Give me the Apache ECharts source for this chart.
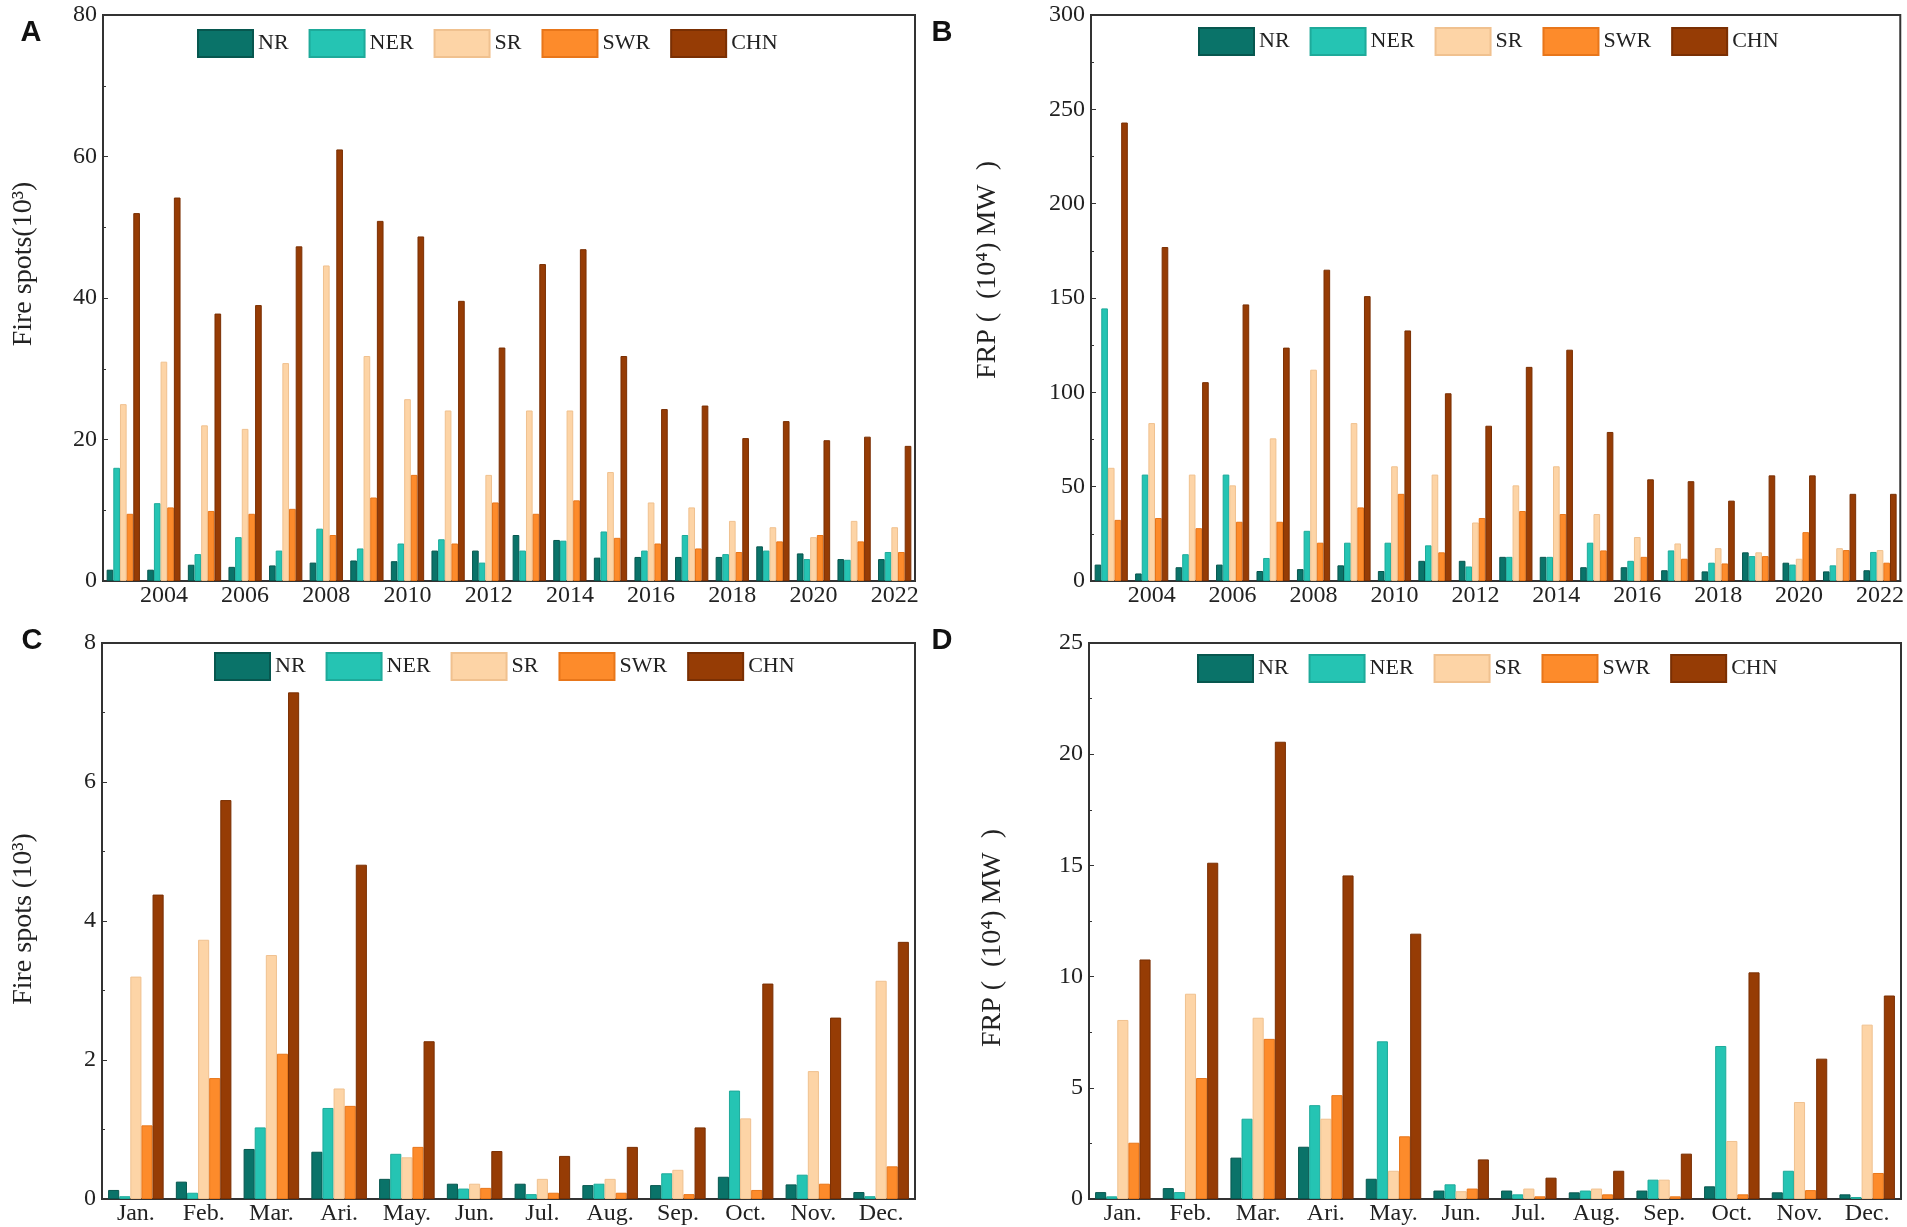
<!DOCTYPE html>
<html>
<head>
<meta charset="utf-8">
<title>Fire spots and FRP</title>
<script src="https://cdn.jsdelivr.net/npm/echarts@6/dist/echarts.min.js"></script>
<style>
    html, body { margin: 0; padding: 0; background: #fff; }
    #chart { width: 1907px; height: 1227px; }
</style>
</head>
<body>
<div id="chart"></div>
<script>
    //类别
    var years = ['2003', '2004', '2005', '2006', '2007', '2008', '2009', '2010', '2011', '2012',
        '2013', '2014', '2015', '2016', '2017', '2018', '2019', '2020', '2021', '2022'];
    var months = ['Jan.', 'Feb.', 'Mar.', 'Ari.', 'May.', 'Jun.', 'Jul.', 'Aug.', 'Sep.', 'Oct.', 'Nov.', 'Dec.'];
    var regions = ['NR', 'NER', 'SR', 'SWR', 'CHN'];

    //A 年火点数 (10^3)
    var spotsYearNR = [1.6, 1.6, 2.3, 2.0, 2.2, 2.6, 2.9, 2.8, 4.3, 4.3, 6.5, 5.8, 3.3, 3.4, 3.4, 3.4, 4.9, 3.9, 3.1, 3.1];
    var spotsYearNER = [16.0, 11.0, 3.8, 6.2, 4.3, 7.4, 4.6, 5.3, 5.9, 2.6, 4.3, 5.7, 7.0, 4.3, 6.5, 3.8, 4.3, 3.1, 3.0, 4.1];
    var spotsYearSR = [25.0, 31.0, 22.0, 21.5, 30.8, 44.6, 31.8, 25.7, 24.1, 15.0, 24.1, 24.1, 15.4, 11.1, 10.4, 8.5, 7.6, 6.2, 8.5, 7.6];
    var spotsYearSWR = [9.5, 10.4, 9.9, 9.5, 10.2, 6.5, 11.8, 15.0, 5.3, 11.1, 9.5, 11.4, 6.1, 5.3, 4.6, 4.1, 5.6, 6.5, 5.6, 4.1];
    var spotsYearCHN = [52.0, 54.2, 37.8, 39.0, 47.3, 61.0, 50.9, 48.7, 39.6, 33.0, 44.8, 46.9, 31.8, 24.3, 24.8, 20.2, 22.6, 19.9, 20.4, 19.1];

    //B 年FRP (10^4 MW)
    var frpYearNR = [8.7, 4.0, 7.3, 8.7, 5.3, 6.3, 8.3, 5.3, 10.7, 10.7, 12.8, 12.8, 7.3, 7.3, 5.7, 5.1, 15.2, 9.7, 5.1, 5.7];
    var frpYearNER = [144.5, 56.4, 14.2, 56.4, 12.2, 26.6, 20.3, 20.3, 18.9, 7.7, 12.8, 12.8, 20.3, 10.7, 16.2, 9.7, 13.2, 8.7, 8.3, 15.4];
    var frpYearSR = [60.0, 83.7, 56.4, 50.7, 75.6, 112.0, 83.7, 60.8, 56.4, 31.0, 50.7, 60.8, 35.5, 23.3, 19.9, 17.4, 15.2, 11.8, 17.4, 16.4];
    var frpYearSWR = [32.4, 33.4, 28.0, 31.4, 31.4, 20.3, 39.0, 46.2, 15.2, 33.4, 37.1, 35.5, 16.2, 12.8, 11.8, 9.3, 13.2, 25.9, 16.4, 9.7];
    var frpYearCHN = [243.0, 177.0, 105.4, 146.6, 123.7, 165.0, 151.0, 132.8, 99.5, 82.3, 113.5, 122.6, 79.0, 53.9, 52.9, 42.6, 56.0, 56.0, 46.2, 46.2];

    //C 月火点数 (10^3)
    var spotsMonthNR = [0.13, 0.25, 0.72, 0.68, 0.29, 0.22, 0.22, 0.20, 0.20, 0.32, 0.21, 0.10];
    var spotsMonthNER = [0.04, 0.09, 1.03, 1.31, 0.65, 0.15, 0.07, 0.22, 0.37, 1.56, 0.35, 0.04];
    var spotsMonthSR = [3.20, 3.73, 3.51, 1.59, 0.60, 0.22, 0.29, 0.29, 0.42, 1.16, 1.84, 3.14];
    var spotsMonthSWR = [1.06, 1.74, 2.09, 1.34, 0.75, 0.16, 0.09, 0.09, 0.07, 0.13, 0.22, 0.47];
    var spotsMonthCHN = [4.38, 5.74, 7.29, 4.81, 2.27, 0.69, 0.62, 0.75, 1.03, 3.10, 2.61, 3.70];

    //D 月FRP (10^4 MW)
    var frpMonthNR = [0.31, 0.49, 1.86, 2.35, 0.91, 0.38, 0.38, 0.30, 0.38, 0.57, 0.30, 0.21];
    var frpMonthNER = [0.12, 0.31, 3.61, 4.22, 7.09, 0.66, 0.21, 0.38, 0.87, 6.88, 1.27, 0.09];
    var frpMonthSR = [8.05, 9.23, 8.15, 3.61, 1.27, 0.35, 0.47, 0.47, 0.87, 2.61, 4.36, 7.84];
    var frpMonthSWR = [2.53, 5.44, 7.20, 4.67, 2.82, 0.47, 0.12, 0.21, 0.12, 0.21, 0.40, 1.17];
    var frpMonthCHN = [10.77, 15.12, 20.56, 14.55, 11.93, 1.78, 0.96, 1.27, 2.04, 10.19, 6.31, 9.15];

    var colors = ['#0a7369', '#25c4b3', '#fdd4a6', '#fd8b2b', '#963c05'];
    var borders = ['#07574f', '#1eaa9a', '#f0c18f', '#e8761a', '#7a2f03'];
    var FONT = '"Liberation Serif", "Times New Roman", serif';

    //面板布局
    var panels = [
        {grid: {left: 103, top: 15, width: 812, height: 566}, cats: years, max: 80, interval: 20,
            data: [spotsYearNR, spotsYearNER, spotsYearSR, spotsYearSWR, spotsYearCHN],
            legend: {left: 197, top: 29}, tag: 'A', tagPos: [31, 33],
            title: 'Fire spots(10³)', titlePos: [24, 264]},
        {grid: {left: 1091, top: 15, width: 811, height: 566}, cats: years, max: 300, interval: 50,
            data: [frpYearNR, frpYearNER, frpYearSR, frpYearSWR, frpYearCHN],
            legend: {left: 1198, top: 27}, tag: 'B', tagPos: [942, 33],
            title: 'FRP (  (10⁴) MW  )', titlePos: [988, 270]},
        {grid: {left: 102, top: 643, width: 813, height: 556}, cats: months, max: 8, interval: 2,
            data: [spotsMonthNR, spotsMonthNER, spotsMonthSR, spotsMonthSWR, spotsMonthCHN],
            legend: {left: 214, top: 652}, tag: 'C', tagPos: [32, 641],
            title: 'Fire spots (10³)', titlePos: [24, 919]},
        {grid: {left: 1089, top: 643, width: 812, height: 556}, cats: months, max: 25, interval: 5,
            data: [frpMonthNR, frpMonthNER, frpMonthSR, frpMonthSWR, frpMonthCHN],
            legend: {left: 1197, top: 654}, tag: 'D', tagPos: [942, 641],
            title: 'FRP (  (10⁴) MW  )', titlePos: [993, 938]}
    ];

    var option = {
        animation: false,
        backgroundColor: '#fff',
        grid: [], xAxis: [], yAxis: [], legend: [], series: [], graphic: []
    };

    panels.forEach(function (p, k) {
        var isYear = p.cats === years;
        option.grid.push({
            left: p.grid.left, top: p.grid.top, width: p.grid.width, height: p.grid.height,
            show: true, borderColor: '#333', borderWidth: 2
        });
        option.xAxis.push({
            type: 'category', gridIndex: k, data: p.cats,
            axisLine: {lineStyle: {color: '#333', width: 2}},
            axisTick: {
                inside: true, length: 4, lineStyle: {color: '#333'},
                alignWithLabel: isYear,
                interval: isYear ? function (i) { return i % 2 === 0; } : 0
            },
            axisLabel: {
                fontFamily: FONT, fontSize: 24, color: '#222', margin: 3,
                interval: isYear ? function (i) { return i % 2 === 1; } : 0
            }
        });
        option.yAxis.push({
            type: 'value', gridIndex: k, min: 0, max: p.max, interval: p.interval,
            splitLine: {show: false},
            axisLine: {show: true, lineStyle: {color: '#333', width: 2}},
            axisTick: {show: true, inside: true, length: 5, lineStyle: {color: '#333'}},
            minorTick: {show: true, splitNumber: 2, length: 3, lineStyle: {color: '#333'}},
            axisLabel: {fontFamily: FONT, fontSize: 24, color: '#222', margin: 6}
        });
        option.legend.push({
            left: p.legend.left, top: p.legend.top, padding: 0,
            itemWidth: 55, itemHeight: 27, itemGap: 20, icon: 'rect',
            textStyle: {fontFamily: FONT, fontSize: 22, color: '#222'},
            data: regions.map(function (r) { return r + '\u200b'.repeat(k); })
        });
        regions.forEach(function (r, j) {
            option.series.push({
                name: r + '\u200b'.repeat(k), type: 'bar', xAxisIndex: k, yAxisIndex: k,
                data: p.data[j], barGap: '0%', barCategoryGap: '18%',
                itemStyle: {color: colors[j], borderColor: borders[j], borderWidth: 1}
            });
        });
        //面板编号
        option.graphic.push({
            type: 'text', x: p.tagPos[0], y: p.tagPos[1],
            style: {text: p.tag, font: 'bold 29px "Liberation Sans", Arial, sans-serif', fill: '#111',
                textAlign: 'center', textVerticalAlign: 'middle'}
        });
        //纵轴标题
        option.graphic.push({
            type: 'text', x: p.titlePos[0], y: p.titlePos[1], rotation: Math.PI / 2,
            style: {text: p.title, font: '28px ' + FONT, fill: '#222',
                textAlign: 'center', textVerticalAlign: 'middle'}
        });
    });

    var myChart = echarts.init(document.getElementById('chart'));
    myChart.setOption(option);
</script>
</body>
</html>
